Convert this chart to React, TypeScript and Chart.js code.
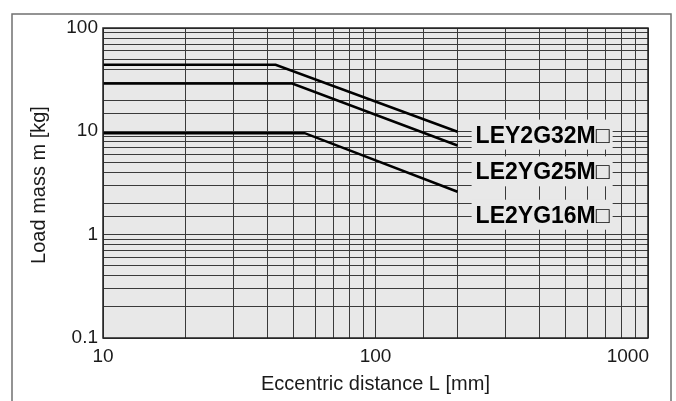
import React, { useEffect, useRef } from "react";
import { Chart, registerables } from "chart.js";

Chart.register(...registerables);

// Eccentric distance L [mm] and load mass m [kg] for each model
const seriesNames = ["LEY2G32M□", "LE2YG25M□", "LE2YG16M□"];
const distance32 = [10, 43, 200];
const mass32 = [44, 44, 9.9];
const distance25 = [10, 49.5, 200];
const mass25 = [29, 29, 7.3];
const distance16 = [10, 55, 200];
const mass16 = [9.6, 9.6, 2.6];
const labelDistance = [233, 233, 233];
const labelMass = [9.3, 4.1, 1.56];

const xTickLabels = [10, 100, 1000];
const yTickLabels = [0.1, 1, 10, 100];
const xTitle = "Eccentric distance L [mm]";
const yTitle = "Load mass m [kg]";

const PLOT_BG = "#e8e8e8";
const GRID = "#3a3a3a";
const TEXT = "#1a1a1a";
const FONT = "'Liberation Sans', Arial, Helvetica, sans-serif";

const toPts = (xs: number[], ys: number[]) => xs.map((x, i) => ({ x, y: ys[i] }));

export default function App() {
  const ref = useRef<HTMLCanvasElement | null>(null);
  useEffect(() => {
    if (!ref.current) return;
    const decor = {
      id: "decor",
      beforeDraw(chart: any) {
        const { ctx, chartArea: a } = chart;
        ctx.save();
        ctx.fillStyle = "#ffffff";
        ctx.fillRect(0, 0, chart.width, chart.height);
        ctx.fillStyle = PLOT_BG;
        ctx.fillRect(a.left, a.top, a.right - a.left, a.bottom - a.top);
        ctx.restore();
      },
      afterDatasetsDraw(chart: any) {
        const { ctx, chartArea: a } = chart;
        const xs = chart.scales.x;
        const ys = chart.scales.y;
        ctx.save();
        // plot border
        ctx.strokeStyle = "#222";
        ctx.lineWidth = 1.5;
        ctx.strokeRect(a.left, a.top, a.right - a.left, a.bottom - a.top);
        // series labels
        ctx.font = `bold 23px ${FONT}`;
        ctx.textBaseline = "alphabetic";
        ctx.textAlign = "left";
        seriesNames.forEach((name, i) => {
          const px = xs.getPixelForValue(labelDistance[i]);
          const py = ys.getPixelForValue(labelMass[i]);
          const w = ctx.measureText(name).width;
          ctx.fillStyle = PLOT_BG;
          ctx.fillRect(px - 4, py - 15, w + 7, 30);
          ctx.fillStyle = "#000";
          ctx.fillText(name, px, py + 8);
        });
        // tick labels
        ctx.fillStyle = TEXT;
        ctx.font = `19px ${FONT}`;
        ctx.textBaseline = "alphabetic";
        xTickLabels.forEach((v, i) => {
          const px = xs.getPixelForValue(v);
          const last = i === xTickLabels.length - 1;
          ctx.textAlign = last ? "right" : "center";
          ctx.fillText(String(v), last ? px + 1 : px, a.bottom + 24);
        });
        ctx.textAlign = "right";
        yTickLabels.forEach((v) => {
          const py = ys.getPixelForValue(v);
          ctx.fillText(String(v), a.left - 5, py + 5);
        });
        // axis titles
        ctx.font = `20px ${FONT}`;
        ctx.textAlign = "center";
        ctx.textBaseline = "alphabetic";
        ctx.fillText(xTitle, (a.left + a.right) / 2, a.bottom + 52);
        ctx.save();
        ctx.translate(44.5, (a.top + a.bottom) / 2 + 2);
        ctx.rotate(-Math.PI / 2);
        ctx.fillText(yTitle, 0, 0);
        ctx.restore();
        // outer frame
        ctx.strokeStyle = "#707070";
        ctx.lineWidth = 1.5;
        ctx.strokeRect(12, 14, 659, 400);
        ctx.restore();
      },
    };
    const lineStyle = {
      borderColor: "#000",
      borderWidth: 2.5,
      pointRadius: 0,
      tension: 0,
      fill: false,
    };
    const chart = new Chart(ref.current, {
      type: "line",
      data: {
        datasets: [
          { label: seriesNames[0], data: toPts(distance32, mass32), ...lineStyle },
          { label: seriesNames[1], data: toPts(distance25, mass25), ...lineStyle },
          { label: seriesNames[2], data: toPts(distance16, mass16), ...lineStyle },
        ],
      },
      options: {
        animation: false,
        responsive: false,
        maintainAspectRatio: false,
        layout: { padding: { left: 103, right: 28, top: 28, bottom: 63 } },
        plugins: { legend: { display: false }, tooltip: { enabled: false } },
        scales: {
          x: {
            type: "logarithmic",
            min: 10,
            max: 1000,
            ticks: { display: false, autoSkip: false, callback: () => "" },
            grid: { color: GRID, lineWidth: 1, drawTicks: false },
            border: { display: false },
            afterFit: (s: any) => { s.height = 0; },
          },
          y: {
            type: "logarithmic",
            min: 0.1,
            max: 100,
            ticks: { display: false, autoSkip: false, callback: () => "" },
            grid: { color: GRID, lineWidth: 1, drawTicks: false },
            border: { display: false },
            afterFit: (s: any) => { s.width = 0; },
          },
        },
      },
      plugins: [decor],
    });
    return () => chart.destroy();
  }, []);
  return (
    <div style={{ position: "absolute", left: 0, top: 0, width: 676, height: 401 }}>
      <canvas ref={ref} width={676} height={401} />
    </div>
  );
}
